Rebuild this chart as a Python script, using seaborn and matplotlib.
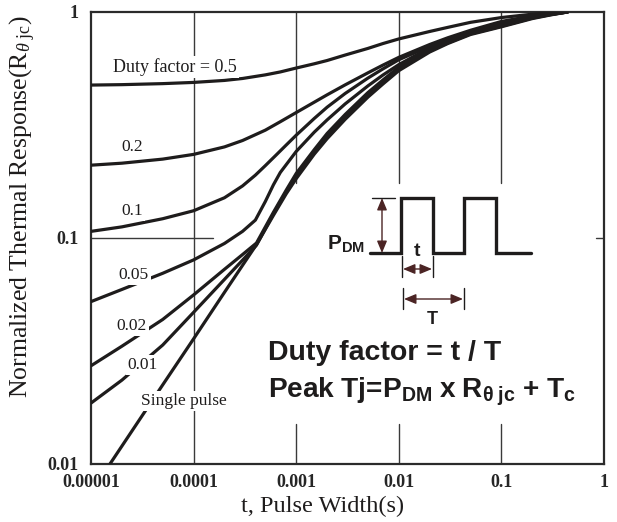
import matplotlib
matplotlib.use("Agg")
import matplotlib.pyplot as plt
import numpy as np
import pandas as pd
import seaborn as sns
from matplotlib import font_manager

# ---------------- data ----------------
tick_x = [1e-5, 1e-4, 1e-3, 1e-2, 1e-1, 1]
tick_x_labels = ["0.00001", "0.0001", "0.001", "0.01", "0.1", "1"]
tick_y = [0.01, 0.1, 1]
tick_y_labels = ["0.01", "0.1", "1"]

duty_names = ["Duty factor = 0.5", "0.2", "0.1", "0.05", "0.02", "0.01", "Single pulse"]

t_d05 = [1e-5, 2e-5, 5e-5, 1e-4, 2e-4, 3e-4, 5e-4, 7e-4, 1e-3, 1.5e-3, 2e-3, 3e-3,
         5e-3, 7e-3, 1e-2, 2e-2, 3e-2, 5e-2, 1e-1, 2e-1, 3e-1, 0.44]
r_d05 = [0.475, 0.477, 0.482, 0.488, 0.498, 0.508, 0.527, 0.543, 0.565, 0.59, 0.61, 0.645,
         0.69, 0.725, 0.76, 0.82, 0.855, 0.90, 0.945, 0.978, 0.992, 1.0]

t_d02 = [1e-5, 2e-5, 5e-5, 1e-4, 2e-4, 3e-4, 5e-4, 7e-4, 1e-3, 1.5e-3, 2e-3, 3e-3,
         5e-3, 7e-3, 1e-2, 2e-2, 3e-2, 5e-2, 1e-1, 2e-1, 3e-1, 0.44]
r_d02 = [0.21, 0.2143, 0.2234, 0.2344, 0.253, 0.27, 0.30, 0.327, 0.359, 0.399, 0.43, 0.476,
         0.538, 0.582, 0.63, 0.718, 0.769, 0.83, 0.908, 0.962, 0.985, 1.0]

t_d01 = [1e-5, 2e-5, 5e-5, 1e-4, 2e-4, 3e-4, 4e-4, 5e-4, 6.3e-4, 8e-4, 1e-3, 1.5e-3,
         2e-3, 3e-3, 5e-3, 7e-3, 1e-2, 2e-2, 3e-2, 5e-2, 1e-1, 2e-1, 3e-1, 0.44]
r_d01 = [0.107, 0.112, 0.1217, 0.132, 0.1507, 0.170, 0.1897, 0.209, 0.2317, 0.258, 0.285, 0.338,
         0.379, 0.436, 0.51, 0.56, 0.615, 0.705, 0.756, 0.815, 0.89, 0.955, 0.982, 1.0]

t_d005 = [1e-5, 2e-5, 5e-5, 1e-4, 2e-4, 3e-4, 4e-4, 5e-4, 6e-4, 7e-4, 1e-3, 1.5e-3,
          2e-3, 3e-3, 5e-3, 7e-3, 1e-2, 2e-2, 3e-2, 5e-2, 1e-1, 2e-1, 3e-1, 0.44]
r_d005 = [0.0523, 0.0592, 0.0698, 0.080, 0.0946, 0.107, 0.120, 0.145, 0.172, 0.195, 0.2415, 0.294,
          0.333, 0.392, 0.471, 0.526, 0.585, 0.695, 0.75, 0.813, 0.88, 0.948, 0.977, 1.0]

t_d002 = [1e-5, 2e-5, 5e-5, 1e-4, 2e-4, 3e-4, 4.1e-4, 6e-4, 8e-4, 1e-3, 1.5e-3, 2e-3, 3e-3,
          5e-3, 7e-3, 1e-2, 2e-2, 3e-2, 5e-2, 1e-1, 2e-1, 3e-1, 0.44]
r_d002 = [0.0272, 0.0332, 0.0436, 0.056, 0.0727, 0.0845, 0.095, 0.13, 0.163, 0.193, 0.246, 0.29, 0.352,
          0.44, 0.50, 0.57, 0.685, 0.738, 0.81, 0.87, 0.943, 0.975, 1.0]

t_d001 = [1e-5, 2e-5, 5e-5, 1e-4, 2e-4, 3e-4, 4.1e-4, 6e-4, 8e-4, 1e-3, 1.5e-3, 2e-3, 3e-3,
          5e-3, 7e-3, 1e-2, 2e-2, 3e-2, 5e-2, 1e-1, 2e-1, 3e-1, 0.44]
r_d001 = [0.0186, 0.0235, 0.0336, 0.0469, 0.0656, 0.0798, 0.093, 0.128, 0.16, 0.188, 0.24, 0.282, 0.343,
          0.43, 0.49, 0.56, 0.675, 0.73, 0.80, 0.865, 0.94, 0.973, 1.0]

t_single = [1.53e-5, 2e-5, 5e-5, 1e-4, 2e-4, 3e-4, 4.1e-4, 6e-4, 8e-4, 1e-3, 1.5e-3, 2e-3, 3e-3,
            5e-3, 7e-3, 1e-2, 2e-2, 3e-2, 5e-2, 1e-1, 2e-1, 3e-1, 0.44]
r_single = [0.0100, 0.0120, 0.0224, 0.0358, 0.0575, 0.0757, 0.0935, 0.126, 0.157, 0.183, 0.235, 0.275, 0.335,
            0.42, 0.48, 0.55, 0.665, 0.725, 0.795, 0.86, 0.935, 0.97, 1.0]

series = [
    (duty_names[0], t_d05, r_d05),
    (duty_names[1], t_d02, r_d02),
    (duty_names[2], t_d01, r_d01),
    (duty_names[3], t_d005, r_d005),
    (duty_names[4], t_d002, r_d002),
    (duty_names[5], t_d001, r_d001),
    (duty_names[6], t_single, r_single),
]

# ---------------- styling ----------------
sns.set_theme(style="white")
names = {f.name for f in font_manager.fontManager.ttflist}
narrow_ok = "Liberation Sans Narrow" in names
NARROW = "Liberation Sans Narrow" if narrow_ok else "Liberation Sans"
BIG = 25 if narrow_ok else 20.5
SMALLB = 14 if narrow_ok else 12

plt.rcParams.update({
    "font.family": ["Liberation Serif", "DejaVu Serif"],
    "mathtext.fontset": "custom",
    "mathtext.rm": "Liberation Serif",
    "mathtext.it": "Liberation Serif:italic",
    "mathtext.bf": NARROW + ":bold",
    "mathtext.fallback": "stix",
    "axes.edgecolor": "#2b2b2b",
    "axes.linewidth": 1.6,
})

INK = "#1e1c1c"
GRID = "#3a3a3a"
ARROW = "#4b2424"

fig = plt.figure(figsize=(6.17, 5.22), dpi=100)
ax = fig.add_axes([91 / 617, 58 / 522, 513 / 617, 452 / 522])
ax.set_xscale("log")
ax.set_yscale("log")

frames = [pd.DataFrame({"t": t, "r": r, "duty": n}) for n, t, r in series]
df = pd.concat(frames, ignore_index=True)
sns.lineplot(data=df, x="t", y="r", hue="duty", hue_order=duty_names,
             palette=[INK] * len(duty_names), estimator=None, sort=True,
             legend=False, linewidth=2.3, ax=ax, zorder=3)

ax.set_xlim(tick_x[0], tick_x[-1])
ax.set_ylim(tick_y[0], tick_y[-1])
ax.minorticks_off()
ax.set_xticks(tick_x)
ax.set_xticklabels(tick_x_labels, fontweight="bold", fontsize=13)
ax.set_yticks(tick_y)
ax.set_yticklabels(tick_y_labels, fontweight="bold", fontsize=13)
ax.tick_params(length=0)
ax.tick_params(axis="x", pad=7)
ax.tick_params(axis="y", pad=9)
ax.set_xlabel("")
ax.set_ylabel("")

# partial grid lines as in the reference
ax.axvline(tick_x[1], color=GRID, lw=1.0, zorder=1)
for xv in tick_x[2:5]:
    ax.axvline(xv, ymin=0.622, ymax=1, color=GRID, lw=1.0, zorder=1)
    ax.axvline(xv, ymin=0, ymax=0.088, color=GRID, lw=1.0, zorder=1)
ax.axhline(tick_y[1], xmin=0, xmax=0.238, color=GRID, lw=1.0, zorder=1)
ax.axhline(tick_y[1], xmin=0.985, xmax=1, color=GRID, lw=1.0, zorder=1)

# curve labels
label_pos = [(6.6e-5, 0.571), (2.5e-5, 0.253), (2.5e-5, 0.132), (2.6e-5, 0.0686),
             (2.5e-5, 0.0408), (3.2e-5, 0.0274), (8.0e-5, 0.0190)]
label_size = [13, 12.5, 12.5, 12.5, 12.5, 12.5, 12.5]
for name, (lx, ly), fs in zip(duty_names, label_pos, label_size):
    ax.text(lx, ly, name, ha="center", va="center", fontsize=fs, color=INK,
            zorder=4, bbox=dict(boxstyle="square,pad=0.12", fc="white", ec="none"))

# axis titles
ax.text((323 - 91) / 513, (464 - 506) / 452, "t, Pulse Width(s)", transform=ax.transAxes,
        ha="center", va="center", fontsize=17.5, color=INK)
ax.text((23 - 91) / 513, (464 - 207) / 452,
        r"Normalized Thermal Response(R$_{\theta\ \mathrm{jc}}$)", transform=ax.transAxes,
        ha="center", va="center", rotation=90, fontsize=18.5, color=INK)


# ---------------- inset pulse diagram ----------------
def P(px, py):
    return ((px - 91) / 513, (464 - py) / 452)

def seg(pts, **kw):
    xy = np.array([P(*p) for p in pts])
    ax.plot(xy[:, 0], xy[:, 1], transform=ax.transAxes, clip_on=False, **kw)

wave = [(370, 253), (401, 253), (401, 198), (433, 198), (433, 253),
        (464, 253), (464, 198), (496, 198), (496, 253), (531, 253)]
seg(wave, color=INK, lw=2.4, zorder=5, solid_joinstyle="miter")
seg([(372, 198), (395, 198)], color=INK, lw=1.0, zorder=5)
for xv, y0, y1 in [(402, 256, 277), (433, 256, 277), (403, 288, 309), (464, 288, 309)]:
    seg([(xv, y0), (xv, y1)], color=INK, lw=1.0, zorder=5)

def arrow(p0, p1):
    ax.annotate("", xy=P(*p1), xytext=P(*p0), xycoords="axes fraction",
                textcoords="axes fraction",
                arrowprops=dict(arrowstyle="<|-|>,head_length=0.6,head_width=0.25",
                                color=ARROW, lw=1.0, shrinkA=0, shrinkB=0), zorder=5)

arrow((382, 253), (382, 198))
arrow((403, 269), (432, 269))
arrow((404, 299), (463, 299))

ax.text(*P(346, 244), r"$\mathbf{P_{DM}}$", transform=ax.transAxes, ha="center",
        va="center", fontsize=SMALLB + 3, color=INK, zorder=5)
ax.text(*P(417, 251), "t", transform=ax.transAxes, ha="center", va="center",
        fontsize=SMALLB + 2, fontweight="bold", family=NARROW, color=INK, zorder=5)
ax.text(*P(432, 319), "T", transform=ax.transAxes, ha="center", va="center",
        fontsize=SMALLB + 1, fontweight="bold", family=NARROW, color=INK, zorder=5)

ax.text(*P(268, 360), "Duty factor = t / T", transform=ax.transAxes, ha="left",
        va="baseline", fontsize=BIG, fontweight="bold", family=NARROW, color=INK, zorder=5)
ax.text(*P(268, 397), r"$\mathbf{Peak\ Tj\!=\!P_{DM}\ x\ R_{\theta\ jc}\,+\,T_{c}}$",
        transform=ax.transAxes, ha="left", va="baseline", fontsize=BIG - 0.3, color=INK, zorder=5)

fig.savefig("out.png", dpi=100)
